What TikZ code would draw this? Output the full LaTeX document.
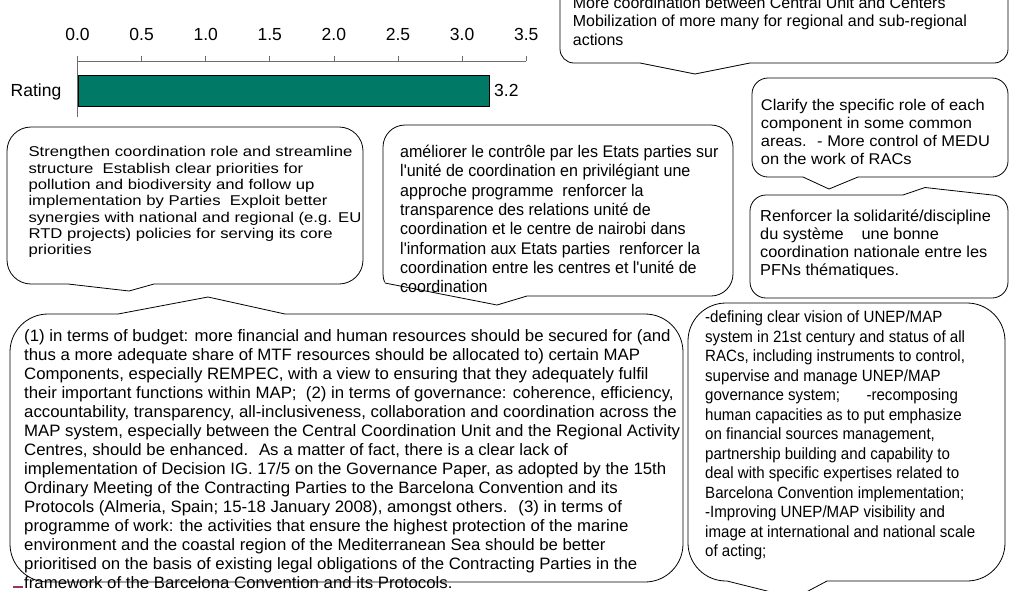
\documentclass[tikz,border=0pt]{standalone}
\usepackage{fontspec}
\setmainfont{Liberation Sans}
\usepackage{graphicx}
\definecolor{barteal}{RGB}{0,122,102}
\definecolor{axisgray}{RGB}{110,110,110}
\definecolor{markplum}{RGB}{153,51,102}
% text block: font size, line distance, set width, lines
\newcommand\calltext[4]{\resizebox{#3}{\height}{\fontsize{#1}{#2}\selectfont\begin{tabular}[t]{@{}l@{}}#4\end{tabular}}}
\newcommand\sq{\textquotesingle}
% pointer of a bubble: base x1, edge y, tip x, tip y, base x2, inward offset
\newcommand\calloutptr[6]{%
  \fill[white] (#1,{#2+#6}) -- (#5,{#2+#6}) -- (#5,{#2-0.6*#6}) -- (#1,{#2-0.6*#6}) -- cycle;
  \fill[white] (#1,#2) -- (#3,#4) -- (#5,#2) -- cycle;
  \draw[edge] (#1,#2) -- (#3,#4) -- (#5,#2);}

\begin{document}
\begin{tikzpicture}[x=1pt,y=-1pt,
  edge/.style={draw=black, line width=0.8pt, line join=miter},
  bubble/.style={edge, fill=white},
  axisline/.style={draw=axisgray, line width=0.8pt},
  ticklab/.style={font=\fontsize{17.5}{20}\selectfont, inner sep=0},
  textblock/.style={anchor=base west, inner sep=0}]
\useasboundingbox (0,0) rectangle (1010,590);
\fill[white] (0,0) rectangle (1010,590);

% ---- bar chart ----
\foreach \v [count=\i from 0] in {0.0,0.5,1.0,1.5,2.0,2.5,3.0,3.5} {
  \node[ticklab, anchor=base] (tl\i) at ({77.5+64.1*\i},40.5) {\v};
  \draw[axisline] ({77.5+64.1*\i},56) -- ({77.5+64.1*\i},61);
}
\draw[axisline] (77.5,61) -- (526.2,61);
\draw[axisline] (77.5,56) -- (77.5,117);
\node[draw=black, line width=0.8pt, fill=barteal, anchor=north west,
      minimum width=411pt, minimum height=31pt, inner sep=0] (bar) at (77.5,74.5) {};
\node[ticklab, anchor=base east] (rating) at (61.5,96) {Rating};
\node[ticklab, anchor=base west] (val) at (494,96) {3.2};

% ---- bubbles ----
\draw[bubble, rounded corners=14pt] (560,-20) rectangle (1008,63);
\calloutptr{640}{63}{695}{74}{750}{-1.5}

\draw[bubble, rounded corners=16pt] (752,78) rectangle (1008,177);
\calloutptr{803}{177}{829}{189}{858}{-1.5}

\draw[bubble, rounded corners=16pt] (750,195) rectangle (1008,298);
\calloutptr{903}{195}{925}{187.5}{992}{1.5}

\draw[bubble, rounded corners=24pt] (7,127) rectangle (363,284);
\calloutptr{68}{284}{129}{291}{154}{-1.5}

% this bubble's pointer starts in its lower left corner
\draw[bubble, rounded corners=22pt] (383,125) rectangle (733,296);
\fill[white] (383.9,282.3) -- (443,294.2) -- (527,294.2) -- (527,312) -- (379,312) -- (379,282.3) -- cycle;
\draw[edge] (384.9,283) -- (497,305) -- (527,296);

\draw[bubble, rounded corners=38pt] (10,314) rectangle (683,582);
\calloutptr{118}{314}{208}{297}{285}{1.5}

\draw[bubble, rounded corners=38pt] (688,303) rectangle (1005,581);
\calloutptr{727}{581}{795}{598}{827}{-1.5}

\draw[markplum, line width=2pt] (13,587) -- (23,587);

% ---- bubble texts ----
\node[textblock] (ta) at (572.7,8.4) {\calltext{16}{18.3}{394pt}{%
More coordination between Central Unit and Centers\\
Mobilization of more many for regional and sub-regional\\
actions}};

\node[textblock] (tb) at (760.7,110.7) {\calltext{15.5}{17.8}{229pt}{%
Clarify the specific role of each\\
component in some common\\
areas.~ - More control of MEDU\\
on the work of RACs}};

\node[textblock] (tc) at (760,221) {\calltext{15.9}{18.3}{230.7pt}{%
Renforcer la solidarité/discipline\\
du système\hspace{13pt} une bonne\\
coordination nationale entre les\\
PFNs thématiques.}};

\node[textblock] (td) at (28.3,156.7) {\calltext{14.2}{16.35}{333pt}{%
Strengthen coordination role and streamline\\
structure~ Establish clear priorities for\\
pollution and biodiversity and follow up\\
implementation by Parties~ Exploit better\\
synergies with national and regional (e.g. EU\\
RTD projects) policies for serving its core\\
priorities}};

\node[textblock] (te) at (400,157.5) {\calltext{16.8}{19.3}{318.3pt}{%
améliorer le contrôle par les Etats parties sur\\
l\sq unité de coordination en privilégiant une\\
approche programme~ renforcer la\\
transparence des relations unité de\\
coordination et le centre de nairobi dans\\
l\sq information aux Etats parties~ renforcer la\\
coordination entre les centres et l\sq unité de\\
coordination}};

\node[textblock] (tf) at (24,341) {\calltext{16.5}{19}{656pt}{%
(1) in terms of budget: more financial and human resources should be secured for (and\\
thus a more adequate share of MTF resources should be allocated to) certain MAP\\
Components, especially REMPEC, with a view to ensuring that they adequately fulfil\\
their important functions within MAP;~ (2) in terms of governance: coherence, efficiency,\\
accountability, transparency, all-inclusiveness, collaboration and coordination across the\\
MAP system, especially between the Central Coordination Unit and the Regional Activity\\
Centres, should be enhanced.~ As a matter of fact, there is a clear lack of\\
implementation of Decision IG. 17/5 on the Governance Paper, as adopted by the 15th\\
Ordinary Meeting of the Contracting Parties to the Barcelona Convention and its\\
Protocols (Almeria, Spain; 15-18 January 2008), amongst others.~ (3) in terms of\\
programme of work: the activities that ensure the highest protection of the marine\\
environment and the coastal region of the Mediterranean Sea should be better\\
prioritised on the basis of existing legal obligations of the Contracting Parties in the\\
framework of the Barcelona Convention and its Protocols.}};

\node[textblock] (tg) at (705,322.5) {\calltext{16.3}{19.5}{270pt}{%
-defining clear vision of UNEP/MAP\\
system in 21st century and status of all\\
RACs, including instruments to control,\\
supervise and manage UNEP/MAP\\
governance system;\hspace{24pt} -recomposing\\
human capacities as to put emphasize\\
on financial sources management,\\
partnership building and capability to\\
deal with specific expertises related to\\
Barcelona Convention implementation;\\
-Improving UNEP/MAP visibility and\\
image at international and national scale\\
of acting;}};
\end{tikzpicture}
\end{document}
